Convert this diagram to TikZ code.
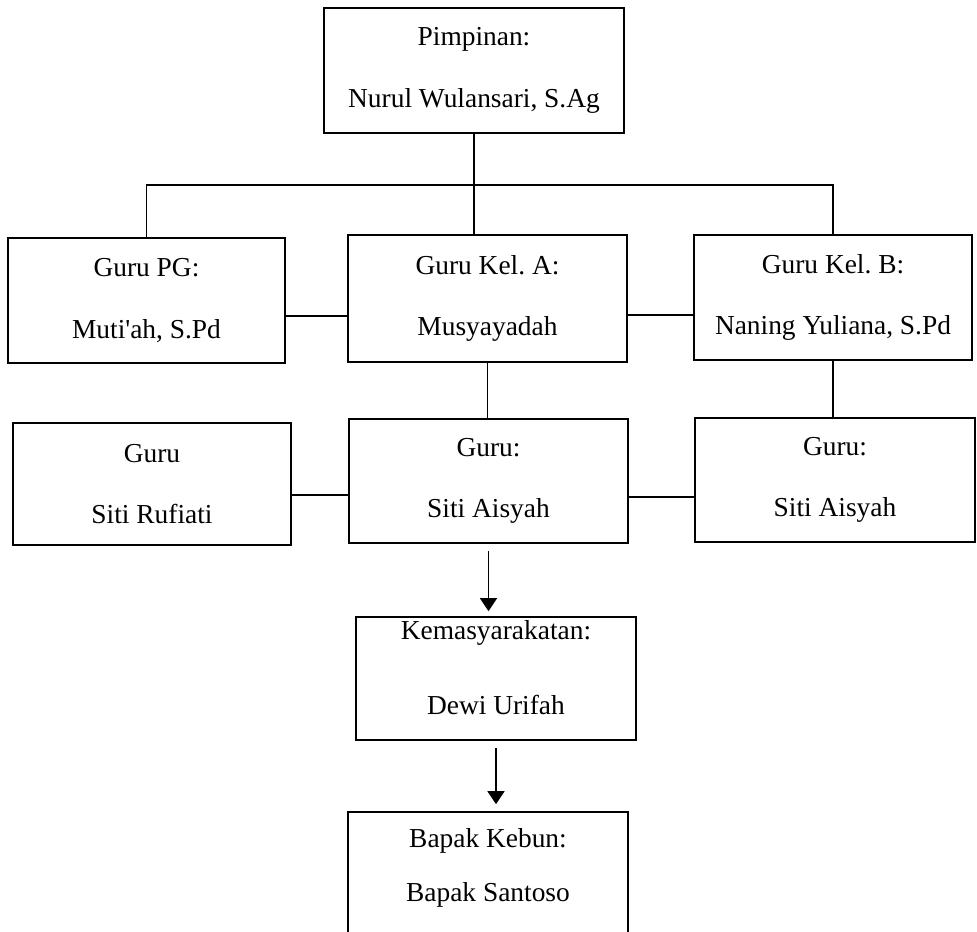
\documentclass[tikz,border=0pt]{standalone}
\usepackage{fontspec}
\setmainfont{Liberation Serif}
\usetikzlibrary{arrows.meta}
\frenchspacing
\tikzset{kotak/.style={draw, line width=1pt, minimum width=5.58cm, minimum height=2.48cm,
    inner sep=0pt, align=center, font=\fontsize{15.6}{35}\selectfont},
  garis/.style={line width=1pt},
  panah/.style={line width=1pt,-{Triangle[length=0.26cm,width=0.34cm]}}}

\begin{document}
\begin{tikzpicture}[x=0.02cm,y=-0.02cm]
    \useasboundingbox (0,0) rectangle (977,931);
    \clip (0,0) rectangle (977,931);
    \node [kotak,minimum width=6cm,minimum height=2.5cm] (pimpinan) at (474,70.5) {Pimpinan:\\Nurul Wulansari, S.Ag};
    \node [kotak,minimum width=5.54cm,minimum height=2.5cm] (gurupg) at (146.5,300.5) {Guru PG:\\Muti\textquotesingle ah, S.Pd};
    \node [kotak,minimum height=2.54cm] (gurua) at (487.5,298.5) {Guru Kel. A:\\Musyayadah};
    \node [kotak,minimum width=5.56cm,minimum height=2.5cm] (gurub) at (833,297.5) {Guru Kel. B:\\Naning Yuliana, S.Pd};
    \node [kotak,minimum width=5.56cm,minimum height=2.44cm] (rufiati) at (152,484) {Guru\\Siti Rufiati};
    \node [kotak] (gurutengah) at (488.5,481) {Guru:\\Siti Aisyah};
    \node [kotak,minimum width=5.6cm] (gurukanan) at (835,480) {Guru:\\Siti Aisyah};
    \node [kotak,minimum width=5.6cm,minimum height=2.46cm,font=\fontsize{15.6}{42.5}\selectfont,text depth=0.44cm] (kemasy) at (496,678.5) {Kemasyarakatan:\\Dewi Urifah};
    \node [kotak,minimum width=5.6cm,minimum height=2.6cm,font=\fontsize{15.6}{31}\selectfont,text depth=0.48cm] (kebun) at (488,877) {Bapak Kebun:\\Bapak Santoso};
    \coordinate (bus) at (0,185);
    \draw [garis] (pimpinan.south) -- (pimpinan.south |- gurua.north);
    \draw [garis] (gurupg.north) |- (bus -| gurub.north) -- (gurub.north);
    \draw [garis] ([yshift=-0.31cm]gurupg.east) -- ([yshift=-0.31cm]gurupg.east -| gurua.west);
    \draw [garis] ([yshift=-0.33cm]gurua.east) -- ([yshift=-0.33cm]gurua.east -| gurub.west);
    \draw [garis] (gurua.south) -- (gurua.south |- gurutengah.north);
    \draw [garis] (gurub.south) -- (gurub.south |- gurukanan.north);
    \draw [garis] ([yshift=-0.22cm]rufiati.east) -- ([yshift=-0.22cm]rufiati.east -| gurutengah.west);
    \draw [garis] ([yshift=-0.32cm]gurutengah.east) -- ([yshift=-0.32cm]gurutengah.east -| gurukanan.west);
    \draw [panah,shorten <=0.14cm,shorten >=0.1cm] (gurutengah.south) -- (gurutengah.south |- kemasy.north);
    \draw [panah,shorten <=0.14cm,shorten >=0.14cm] (kemasy.south) -- (kemasy.south |- kebun.north);
\end{tikzpicture}
\end{document}
